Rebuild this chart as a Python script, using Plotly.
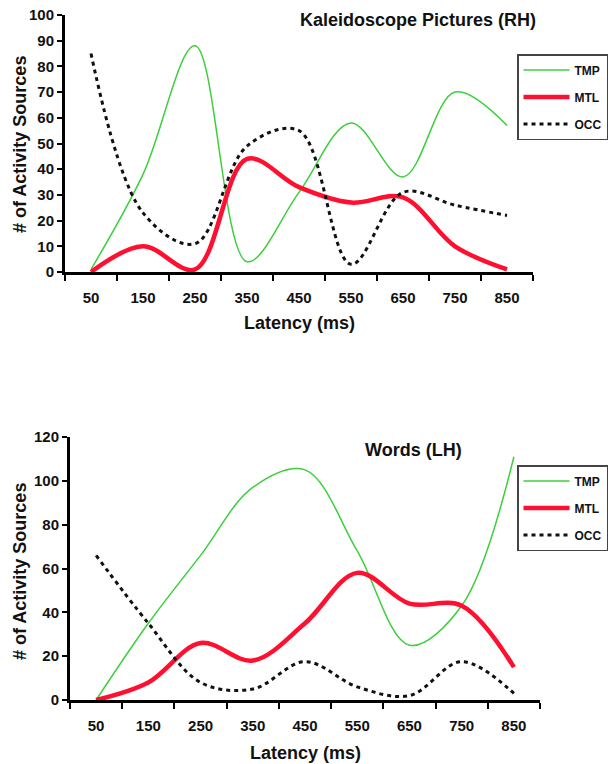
import plotly.graph_objects as go

W, H = 612, 764

latency = [50, 150, 250, 350, 450, 550, 650, 750, 850]
tick_labels = [str(v) for v in latency]
boundaries = [0, 100, 200, 300, 400, 500, 600, 700, 800, 900]

# Kaleidoscope Pictures (RH)
kal_tmp = [1, 38, 88, 4, 31, 58, 37, 70, 57]
kal_mtl = [0, 10, 1, 44, 33, 27, 29, 10, 1]
kal_occ = [85, 23, 11, 49, 55, 3, 31, 26, 22]

# Words (LH)
words_tmp = [0, 35, 66, 97, 105, 68, 25, 43, 111]
words_mtl = [0, 8, 26, 18, 35, 58, 44, 43, 15]
words_occ = [66, 35, 8, 5, 17.5, 6, 2, 17.5, 3]

series_names = ["TMP", "MTL", "OCC"]
styles = {
    "TMP": dict(color="#3ccf3c", width=1.5, dash="solid"),
    "MTL": dict(color="#ff1030", width=4.5, dash="solid"),
    "OCC": dict(color="#111111", width=3, dash="4px,4px"),
}

FONT = "Liberation Sans, Arial, sans-serif"

def px_x(p):
    return p / W

def px_y(p):
    return 1 - p / H

fig = go.Figure()

for ax, legend, data in [
    ("1", "legend", [kal_tmp, kal_mtl, kal_occ]),
    ("2", "legend2", [words_tmp, words_mtl, words_occ]),
]:
    for name, vals in zip(series_names, data):
        st = styles[name]
        fig.add_trace(go.Scatter(
            x=latency, y=vals, name=name, mode="lines",
            line=dict(color=st["color"], width=st["width"], dash=st["dash"],
                      shape="spline", smoothing=1.0),
            xaxis="x" if ax == "1" else "x2",
            yaxis="y" if ax == "1" else "y2",
            legend=legend, legendgroup=name + ax,
        ))

def xaxis_cfg(domain, anchor):
    return dict(
        domain=domain, anchor=anchor, range=[0, 900],
        tickmode="array", tickvals=latency, ticktext=tick_labels,
        ticks="", showgrid=False, zeroline=False, automargin=False,
        showline=True, linecolor="black", linewidth=3,
        tickfont=dict(family=FONT, size=15, color="#111", weight=700),
        ticklabelstandoff=10,
        minor=dict(tickmode="array", tickvals=boundaries, ticks="outside",
                   ticklen=6, tickwidth=2, tickcolor="black", showgrid=False),
    )

def yaxis_cfg(domain, anchor, rng, dtick):
    return dict(
        domain=domain, anchor=anchor, range=rng, dtick=dtick,
        ticks="outside", ticklen=5, tickwidth=2, tickcolor="black",
        showgrid=False, zeroline=False, automargin=False,
        showline=True, linecolor="black", linewidth=3,
        tickfont=dict(family=FONT, size=15, color="#111", weight=700),
    )

legend_common = dict(
    xanchor="left", yanchor="top", bgcolor="white",
    bordercolor="#444", borderwidth=1.5,
    font=dict(family=FONT, size=12, color="#111", weight=700),
    tracegroupgap=8, itemwidth=46,
)

fig.update_layout(
    width=W, height=H,
    margin=dict(l=0, r=0, t=0, b=0, autoexpand=False),
    paper_bgcolor="white", plot_bgcolor="white",
    showlegend=True,
    xaxis=xaxis_cfg([px_x(65), px_x(533)], "y"),
    yaxis=yaxis_cfg([px_y(272), px_y(15)], "x", [0, 100], 10),
    xaxis2=xaxis_cfg([px_x(70), px_x(540)], "y2"),
    yaxis2=yaxis_cfg([px_y(700), px_y(437)], "x2", [0, 120], 20),
    legend=dict(x=px_x(517), y=px_y(54), **legend_common),
    legend2=dict(x=px_x(517), y=px_y(465), **legend_common),
)

def text_ann(text, x, y, size, angle=0):
    fig.add_annotation(
        text=text, x=px_x(x), y=px_y(y), xref="paper", yref="paper",
        showarrow=False, textangle=angle, xanchor="center", yanchor="middle",
        font=dict(family=FONT, size=size, color="#111", weight=700),
    )

text_ann("Kaleidoscope Pictures (RH)", 418, 20, 18)
text_ann("Words (LH)", 413, 450, 18)
text_ann("Latency (ms)", 299, 323, 18)
text_ann("Latency (ms)", 305, 753, 18)
text_ann("# of Activity Sources", 20, 145, 18, -90)
text_ann("# of Activity Sources", 20, 572, 18, -90)

fig.write_html(
    "out.html",
    config={"displayModeBar": False},
    post_script="document.body.style.margin='0';document.body.style.padding='0';"
                "document.body.style.overflow='hidden';",
)
